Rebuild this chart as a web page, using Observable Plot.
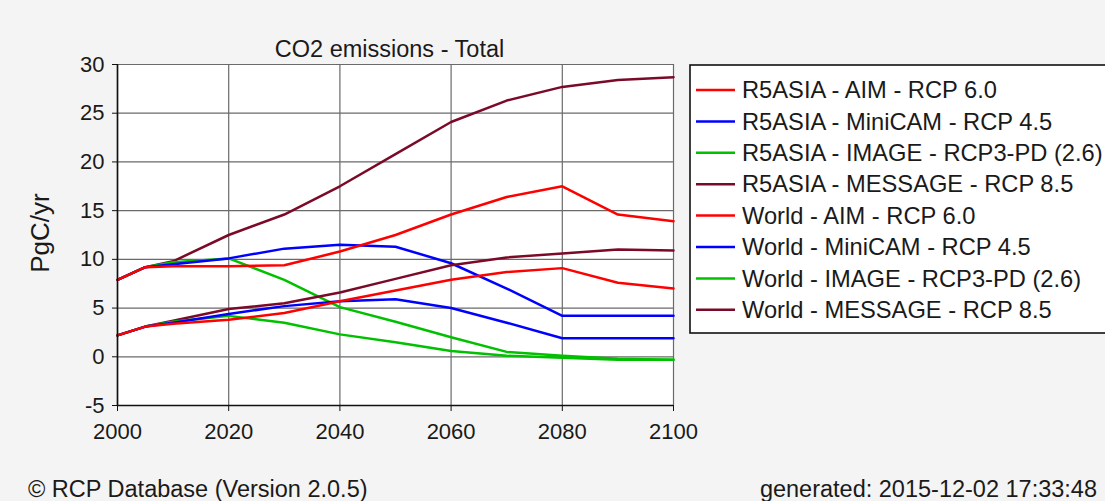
<!DOCTYPE html>
<html>
<head>
<meta charset="utf-8">
<script src="https://cdn.jsdelivr.net/npm/d3@7"></script>
<script src="https://cdn.jsdelivr.net/npm/@observablehq/plot@0.6"></script>
<style>
  html, body { margin: 0; padding: 0; background: #f4f4f4; }
  #chart svg { display: block; }
</style>
</head>
<body>
<div id="chart"></div>
<script>
// CO2 emissions (PgC/yr) for four RCP scenarios, R5ASIA region and World
const years = [2000, 2005, 2010, 2020, 2030, 2040, 2050, 2060, 2070, 2080, 2090, 2100];

const seriesNames = [
  "R5ASIA - AIM - RCP 6.0",
  "R5ASIA - MiniCAM - RCP 4.5",
  "R5ASIA - IMAGE - RCP3-PD (2.6)",
  "R5ASIA - MESSAGE - RCP 8.5",
  "World - AIM - RCP 6.0",
  "World - MiniCAM - RCP 4.5",
  "World - IMAGE - RCP3-PD (2.6)",
  "World - MESSAGE - RCP 8.5"
];
const seriesColors = ["#ff0000", "#0000ff", "#00c000", "#7b0a28",
                      "#ff0000", "#0000ff", "#00c000", "#7b0a28"];

const asiaAIM      = [2.2, 3.1, 3.4, 3.8, 4.5, 5.7, 6.8, 7.9, 8.7, 9.1, 7.6, 7.0];
const asiaMiniCAM  = [2.2, 3.1, 3.5, 4.4, 5.2, 5.7, 5.9, 5.0, 3.5, 1.9, 1.9, 1.9];
const asiaIMAGE    = [2.2, 3.1, 3.6, 4.2, 3.5, 2.3, 1.5, 0.6, 0.1, -0.1, -0.3, -0.3];
const asiaMESSAGE  = [2.2, 3.1, 3.7, 4.9, 5.5, 6.6, 8.0, 9.4, 10.2, 10.6, 11.0, 10.9];
const worldAIM     = [7.9, 9.2, 9.3, 9.3, 9.4, 10.8, 12.5, 14.6, 16.4, 17.5, 14.6, 13.9];
const worldMiniCAM = [7.9, 9.2, 9.5, 10.1, 11.1, 11.5, 11.3, 9.6, 7.0, 4.2, 4.2, 4.2];
const worldIMAGE   = [7.9, 9.2, 9.7, 10.1, 7.9, 5.1, 3.6, 2.0, 0.5, 0.1, -0.2, -0.3];
const worldMESSAGE = [7.9, 9.2, 9.8, 12.5, 14.6, 17.5, 20.8, 24.1, 26.3, 27.7, 28.4, 28.7];

const seriesValues = [asiaAIM, asiaMiniCAM, asiaIMAGE, asiaMESSAGE,
                      worldAIM, worldMiniCAM, worldIMAGE, worldMESSAGE];

const xTicks = [2000, 2020, 2040, 2060, 2080, 2100];
const yTicks = [-5, 0, 5, 10, 15, 20, 25, 30];

const titleText = "CO2 emissions - Total";
const yLabel = "PgC/yr";
const footerLeft = "\u00a9 RCP Database (Version 2.0.5)";
const footerRight = "generated: 2015-12-02 17:33:48";

// long-format rows; later series are drawn first so the AIM lines sit on top
const rows = [];
for (let s = seriesNames.length - 1; s >= 0; s--) {
  years.forEach((yr, i) => rows.push({series: seriesNames[s], year: yr, value: seriesValues[s][i]}));
}

const font = "'Liberation Sans', Arial, sans-serif";
const W = 1105, H = 501;

const plot = Plot.plot({
  width: W,
  height: H,
  marginLeft: 117,
  marginRight: 432,
  marginTop: 64,
  marginBottom: 96,
  style: {background: "#f4f4f4", fontFamily: font, fontSize: "21px", color: "#1a1a1a"},
  x: {domain: [2000, 2100]},
  y: {domain: [-5, 30]},
  marks: [
    Plot.frame({fill: "white", stroke: null}),
    Plot.gridX(xTicks, {stroke: "#6a6a6a", strokeOpacity: 1, strokeWidth: 1.2}),
    Plot.gridY(yTicks, {stroke: "#6a6a6a", strokeOpacity: 1, strokeWidth: 1.2}),
    Plot.axisX({ticks: xTicks, tickFormat: (d) => String(d), tickSize: 6, tickPadding: 12,
                fontSize: 21, label: null, stroke: "#111", fill: "#1a1a1a"}),
    Plot.axisY({ticks: yTicks, tickFormat: (d) => String(d), tickSize: 5, tickPadding: 8,
                fontSize: 21, label: null, stroke: "#111", fill: "#1a1a1a"}),
    Plot.line(rows, {x: "year", y: "value", z: "series",
                     stroke: (d) => seriesColors[seriesNames.indexOf(d.series)],
                     strokeWidth: 2.5, strokeLinejoin: "round"}),
    Plot.ruleX([2000], {stroke: "#111", strokeWidth: 1.6}),
    Plot.ruleY([-5], {stroke: "#111", strokeWidth: 1.6}),
    Plot.text([titleText], {frameAnchor: "top", dx: -6, dy: -24,
                            fontSize: 23.5, fill: "#1a1a1a"})
  ]
});

document.getElementById("chart").appendChild(plot);

const svg = d3.select(plot);

// enlarge the tick labels of both axes
svg.selectAll('g[aria-label$="tick label"] text')
  .style("font-size", "22px");

// y-axis title
svg.append("text")
  .attr("transform", "translate(40,233) rotate(-90)")
  .attr("text-anchor", "middle").attr("dy", "0.35em")
  .attr("font-family", font).style("font-size", "26px").attr("fill", "#1a1a1a")
  .text(yLabel);

// legend box to the right of the plot
const lg = svg.append("g").attr("font-family", font).attr("text-anchor", "start");
lg.append("rect")
  .attr("x", 690).attr("y", 65).attr("width", 430).attr("height", 268)
  .attr("fill", "white").attr("stroke", "#111").attr("stroke-width", 1.6);
seriesNames.forEach((name, i) => {
  const y = 90 + i * 31.4;
  lg.append("line")
    .attr("x1", 696).attr("x2", 735).attr("y1", y).attr("y2", y)
    .attr("stroke", seriesColors[i]).attr("stroke-width", 2.5);
  lg.append("text")
    .attr("x", 742).attr("y", y).attr("dy", "0.35em")
    .style("font-size", "23.7px").attr("fill", "#1a1a1a")
    .text(name);
});

// footer
svg.append("text")
  .attr("x", 28).attr("y", 497).attr("text-anchor", "start").attr("font-family", font)
  .style("font-size", "23.5px").attr("fill", "#1a1a1a").text(footerLeft);
svg.append("text")
  .attr("x", 1097).attr("y", 497).attr("text-anchor", "end").attr("font-family", font)
  .style("font-size", "23.5px").attr("fill", "#1a1a1a").text(footerRight);
</script>
</body>
</html>
